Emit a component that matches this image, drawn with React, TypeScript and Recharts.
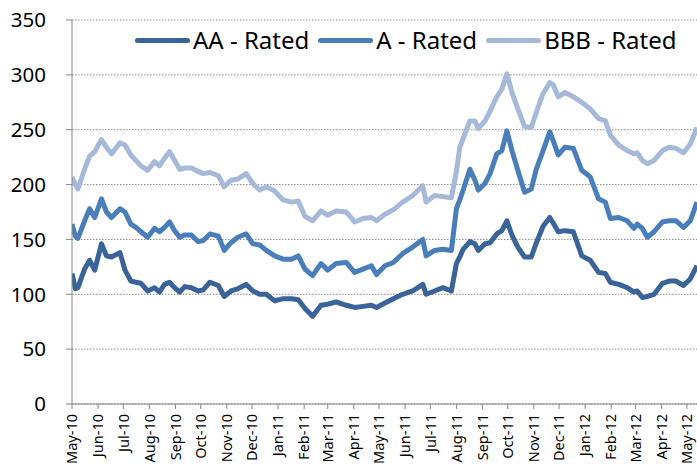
import { CartesianGrid, Line, LineChart, XAxis, YAxis } from "recharts";

// Spread vs treasuries by rating bucket, May-10 .. May-12 (bp)

const dates = [
  "2010-05-01", "2010-05-05", "2010-05-08", "2010-05-16", "2010-05-22", "2010-05-28",
  "2010-06-05", "2010-06-11", "2010-06-17", "2010-06-27", "2010-07-03", "2010-07-10",
  "2010-07-16", "2010-07-22", "2010-07-30", "2010-08-07", "2010-08-13", "2010-08-19",
  "2010-08-25", "2010-08-31", "2010-09-06", "2010-09-12", "2010-09-20", "2010-09-28",
  "2010-10-04", "2010-10-12", "2010-10-22", "2010-10-29", "2010-11-06", "2010-11-14",
  "2010-11-24", "2010-12-02", "2010-12-10", "2010-12-18", "2010-12-28", "2011-01-07",
  "2011-01-17", "2011-01-25", "2011-02-02", "2011-02-11", "2011-02-21", "2011-03-01",
  "2011-03-11", "2011-03-23", "2011-04-02", "2011-04-12", "2011-04-22", "2011-04-28",
  "2011-05-08", "2011-05-18", "2011-05-29", "2011-06-10", "2011-06-22", "2011-06-26",
  "2011-07-06", "2011-07-16", "2011-07-26", "2011-08-01", "2011-08-05", "2011-08-09",
  "2011-08-17", "2011-08-23", "2011-08-27", "2011-09-04", "2011-09-10", "2011-09-18",
  "2011-09-24", "2011-09-30", "2011-10-06", "2011-10-13", "2011-10-21", "2011-10-29",
  "2011-11-04", "2011-11-12", "2011-11-20", "2011-11-24", "2011-11-30", "2011-12-08",
  "2011-12-18", "2011-12-28", "2012-01-07", "2012-01-17", "2012-01-25", "2012-01-31",
  "2012-02-10", "2012-02-20", "2012-02-28", "2012-03-03", "2012-03-09", "2012-03-15",
  "2012-03-23", "2012-04-02", "2012-04-10", "2012-04-18", "2012-04-27", "2012-05-05",
  "2012-05-13",
];

const aaRated = [
  119, 105, 106, 123, 131, 122, 146, 135, 134, 138, 122, 112,
  111, 110, 103, 106, 102, 109, 111, 106, 102, 107, 106, 103,
  104, 111, 108, 98, 103, 105, 109, 103, 100, 100, 94, 96,
  96, 95, 87, 80, 90, 91, 93, 90, 88, 89, 90, 88,
  92, 96, 100, 103, 109, 100, 103, 106, 103, 128, 134, 141,
  148, 146, 140, 146, 147, 155, 158, 167, 154, 143, 134, 134,
  147, 162, 170, 165, 157, 158, 157, 135, 131, 120, 119, 111,
  109, 106, 102, 103, 97, 98, 100, 110, 112, 112, 108, 114,
  126,
];

const aRated = [
  164, 153, 151, 167, 178, 170, 187, 175, 170, 178, 175, 164,
  161, 157, 152, 160, 157, 161, 166, 158, 152, 154, 154, 148,
  149, 155, 153, 140, 147, 152, 155, 146, 145, 140, 135, 132,
  132, 135, 123, 117, 128, 122, 128, 129, 120, 123, 126, 118,
  126, 129, 137, 143, 150, 135, 140, 141, 140, 178, 186, 195,
  214, 204, 195, 201, 210, 228, 231, 249, 231, 213, 193, 196,
  214, 231, 248, 240, 227, 234, 233, 213, 207, 187, 184, 169,
  170, 167, 160, 164, 160, 152, 157, 166, 167, 167, 161, 167,
  184,
];

const bbbRated = [
  207, 200, 196, 214, 226, 230, 241, 234, 228, 238, 236, 227,
  222, 217, 213, 221, 217, 224, 230, 222, 214, 215, 215, 212,
  210, 211, 208, 198, 204, 205, 210, 201, 195, 198, 194, 186,
  184, 185, 171, 167, 176, 172, 176, 175, 166, 169, 170, 167,
  173, 177, 184, 190, 199, 184, 190, 189, 188, 212, 234, 242,
  258, 258, 251, 258, 267, 280, 287, 301, 284, 269, 253, 252,
  266, 283, 293, 291, 280, 284, 280, 275, 269, 260, 258, 245,
  236, 231, 228, 229, 222, 219, 222, 231, 234, 233, 229, 237,
  252,
];

const monthTicks = [
  "2010-05-01", "2010-06-01", "2010-07-01", "2010-08-01", "2010-09-01",
  "2010-10-01", "2010-11-01", "2010-12-01", "2011-01-01", "2011-02-01",
  "2011-03-01", "2011-04-01", "2011-05-01", "2011-06-01", "2011-07-01",
  "2011-08-01", "2011-09-01", "2011-10-01", "2011-11-01", "2011-12-01",
  "2012-01-01", "2012-02-01", "2012-03-01", "2012-04-01", "2012-05-01",
];

const monthNames = ["Jan", "Feb", "Mar", "Apr", "May", "Jun", "Jul", "Aug", "Sep", "Oct", "Nov", "Dec"];
const yTicks = [0, 50, 100, 150, 200, 250, 300, 350];

const seriesNames = ["AA - Rated", "A - Rated", "BBB - Rated"];
const seriesColors = ["#3A6399", "#4A7EBB", "#A6B9D8"];

const toTs = (d: string) => Date.UTC(+d.slice(0, 4), +d.slice(5, 7) - 1, +d.slice(8, 10));

const rows = dates.map((d, i) => ({
  t: toTs(d),
  aa: aaRated[i],
  a: aRated[i],
  bbb: bbbRated[i],
}));

const xDomain: [number, number] = [toTs(dates[0]), toTs(dates[dates.length - 1])];
const xTicks = monthTicks.map(toTs);

function fmtMonth(ts: number) {
  const d = new Date(ts);
  return `${monthNames[d.getUTCMonth()]}-${String(d.getUTCFullYear()).slice(2)}`;
}

function RotatedTick(props: any) {
  const { x, y, payload } = props;
  return (
    <g transform={`translate(${x},${y})`}>
      <text
        transform="rotate(-90)"
        x={-3}
        y={0}
        dy="0.36em"
        textAnchor="end"
        fill="#000"
        fontSize={14.5}
        fontFamily="Noto Sans"
      >
        {fmtMonth(payload.value)}
      </text>
    </g>
  );
}

function LegendRow() {
  return (
    <div
      style={{
        position: "absolute",
        left: 135,
        top: 24,
        display: "flex",
        alignItems: "center",
        fontFamily: "Noto Sans",
        fontSize: 24,
        color: "#000",
        whiteSpace: "nowrap",
        lineHeight: "32px",
      }}
    >
      {seriesNames.map((name, i) => (
        <div key={name} style={{ display: "flex", alignItems: "center", marginRight: 9 }}>
          <span
            style={{
              display: "inline-block",
              width: 55,
              height: 5,
              borderRadius: 3,
              background: seriesColors[i],
              marginRight: 3,
            }}
          />
          <span>{name}</span>
        </div>
      ))}
    </div>
  );
}

export default function App() {
  return (
    <div style={{ position: "absolute", left: 0, top: 0, width: 697, height: 466, background: "#fff" }}>
      <LineChart width={697} height={466} data={rows} margin={{ top: 20, right: 0, bottom: 0, left: 0 }}>
        <CartesianGrid
          horizontal
          vertical={false}
          stroke="#8c8c8c"
          strokeDasharray="1.5 1.5"
        />
        <XAxis
          dataKey="t"
          type="number"
          scale="linear"
          domain={xDomain}
          ticks={xTicks}
          interval={0}
          height={62}
          tickSize={5}
          tickMargin={2}
          stroke="#868686"
          tick={(p: any) => <RotatedTick {...p} />}
          allowDataOverflow
        />
        <YAxis
          domain={[0, 350]}
          ticks={yTicks}
          interval={0}
          width={72}
          tickSize={6}
          tickMargin={20}
          stroke="#868686"
          tick={{ fill: "#000", fontSize: 20.5, fontFamily: "Noto Sans" }}
        />
        <Line type="linear" dataKey="bbb" stroke={seriesColors[2]} strokeWidth={5} dot={false} isAnimationActive={false} strokeLinejoin="round" />
        <Line type="linear" dataKey="a" stroke={seriesColors[1]} strokeWidth={5} dot={false} isAnimationActive={false} strokeLinejoin="round" />
        <Line type="linear" dataKey="aa" stroke={seriesColors[0]} strokeWidth={5} dot={false} isAnimationActive={false} strokeLinejoin="round" />
      </LineChart>
      <LegendRow />
    </div>
  );
}
